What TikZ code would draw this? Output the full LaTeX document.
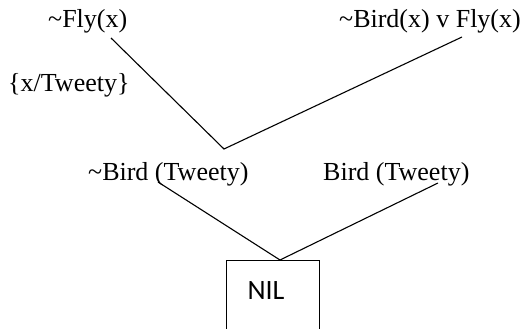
\documentclass[tikz,border=0pt]{standalone}
\usepackage{fontspec}
\setmainfont{Liberation Serif}
\newfontfamily\nilfont{Carlito}
\begin{document}
\begin{tikzpicture}[x=1pt,y=-1pt,
  lbl/.style={anchor=base west,inner sep=0pt,font=\fontsize{26}{30}\selectfont},
  conn/.style={line width=1.1pt}]
\clip (0,0) rectangle (527,329);
\fill[white] (0,0) rectangle (527,329);
\node[lbl] (fly) at (48,28) {\textasciitilde Fly(x)};
\node[lbl] (rule) at (339,28) {\textasciitilde Bird(x) v Fly(x)};
\node[lbl] (subst) at (8,91) {\{x/Tweety\}};
\node[lbl] (nbird) at (88,180) {\textasciitilde Bird (Tweety)};
\node[lbl] (bird) at (323,180) {Bird (Tweety)};
\node[draw,line width=1.1pt,minimum width=93pt,minimum height=90pt,anchor=north west,inner sep=0pt] (nil) at (226,260) {};
\node[anchor=base,inner sep=0pt,font=\nilfont\fontsize{28}{32}\selectfont] (niltext) at (266,299) {NIL};
\coordinate (a) at (111,38);
\coordinate (j) at (224,149);
\coordinate (b) at (462,37);
\coordinate (c) at (158,182);
\coordinate (d) at (438,183);
\coordinate (n) at (280,260);
\draw[conn] (a) -- (j) -- (b);
\draw[conn] (c) -- (n) -- (d);
\end{tikzpicture}
\end{document}
